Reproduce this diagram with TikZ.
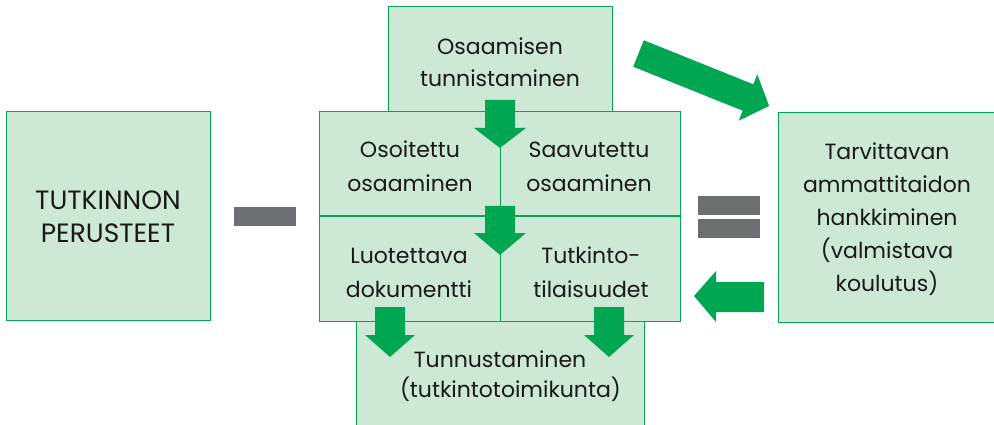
\documentclass[tikz,border=0pt]{standalone}
\usepackage{fontspec}
\setmainfont{Poppins}
\definecolor{boxfill}{RGB}{205,232,213}
\definecolor{boxline}{RGB}{0,166,81}
\definecolor{arrowgreen}{RGB}{0,166,81}
\definecolor{signgray}{RGB}{109,110,113}
\tikzset{
  box/.style={draw=boxline, fill=boxfill, line width=1pt, inner sep=0pt, outer sep=0pt, anchor=north west},
  lbl/.style={inner sep=0pt, anchor=base, align=center, text width=200pt, font=\fontsize{22}{33}\selectfont, text=black!90},
  blockarrow/.style={fill=arrowgreen},
  sign/.style={fill=signgray}
}
\begin{document}
\begin{tikzpicture}[x=1pt,y=-1pt]
\useasboundingbox (0,0) rectangle (994,425);
\clip (0,0) rectangle (994,425);
% boxes
\node[box, minimum width=204pt, minimum height=208pt] (perusteet) at (6,112) {};
\node[box, minimum width=224pt, minimum height=105pt] (tunnistaminen) at (388,7) {};
\node[box, minimum width=181pt, minimum height=104pt] (osoitettu) at (319,112) {};
\node[box, minimum width=180pt, minimum height=104pt] (saavutettu) at (500,112) {};
\node[box, minimum width=181pt, minimum height=105pt] (luotettava) at (319,216) {};
\node[box, minimum width=180pt, minimum height=105pt] (tutkinto) at (500,216) {};
\node[box, minimum width=288pt, minimum height=120pt] (tunnustaminen) at (356,321) {};
\node[box, minimum width=216pt, minimum height=209pt] (hankkiminen) at (778,113) {};
% labels
\node[lbl, font=\fontsize{26.5}{33}\selectfont] (tPerus) at (108,210) {TUTKINNON\\PERUSTEET};
\node[lbl, font=\fontsize{22}{32}\selectfont] (tTunnist) at (500,55) {Osaamisen\\tunnistaminen};
\node[lbl, font=\fontsize{22}{34}\selectfont] (tOsoit) at (410,158) {Osoitettu\\osaaminen};
\node[lbl, font=\fontsize{22}{34}\selectfont] (tSaav) at (589,158) {Saavutettu\\osaaminen};
\node[lbl, font=\fontsize{22}{34}\selectfont] (tLuot) at (409,263) {Luotettava\\dokumentti};
\node[lbl, font=\fontsize{22}{34}\selectfont] (tTutk) at (591,263) {Tutkinto-\\tilaisuudet};
\node[lbl, font=\fontsize{22}{30}\selectfont] (tTunnus) at (500,367) {Tunnustaminen\\(tutkintotoimikunta)};
\node[lbl] (tHank) at (887,160) {Tarvittavan\\ammattitaidon\\hankkiminen\\(valmistava\\koulutus)};
% minus and equals signs
\fill[sign] (234,207) rectangle (296,226);
\fill[sign] (698,196) rectangle (760,215);
\fill[sign] (698,219) rectangle (760,238);
% block arrows
\fill[blockarrow] (485,100) -- (515,100) -- (515,128) -- (526,128) -- (500,148) -- (474,128) -- (485,128) -- cycle;
\fill[blockarrow] (485,206) -- (515,206) -- (515,233) -- (526,233) -- (500,255) -- (474,233) -- (485,233) -- cycle;
\fill[blockarrow] (375,307) -- (405,307) -- (405,335) -- (415,335) -- (390,357) -- (365,335) -- (375,335) -- cycle;
\fill[blockarrow] (594,307) -- (624,307) -- (624,335) -- (634,335) -- (609,357) -- (584,335) -- (594,335) -- cycle;
\fill[blockarrow] (764,282) -- (764,312) -- (716,312) -- (716,322) -- (694,296) -- (716,271) -- (716,282) -- cycle;
\fill[blockarrow] (643.8,40.3) -- (753.3,84.3) -- (757.3,74.3) -- (769.1,106) -- (738.7,120.7) -- (742.7,110.7) -- (633.2,66.7) -- cycle;
\end{tikzpicture}
\end{document}
